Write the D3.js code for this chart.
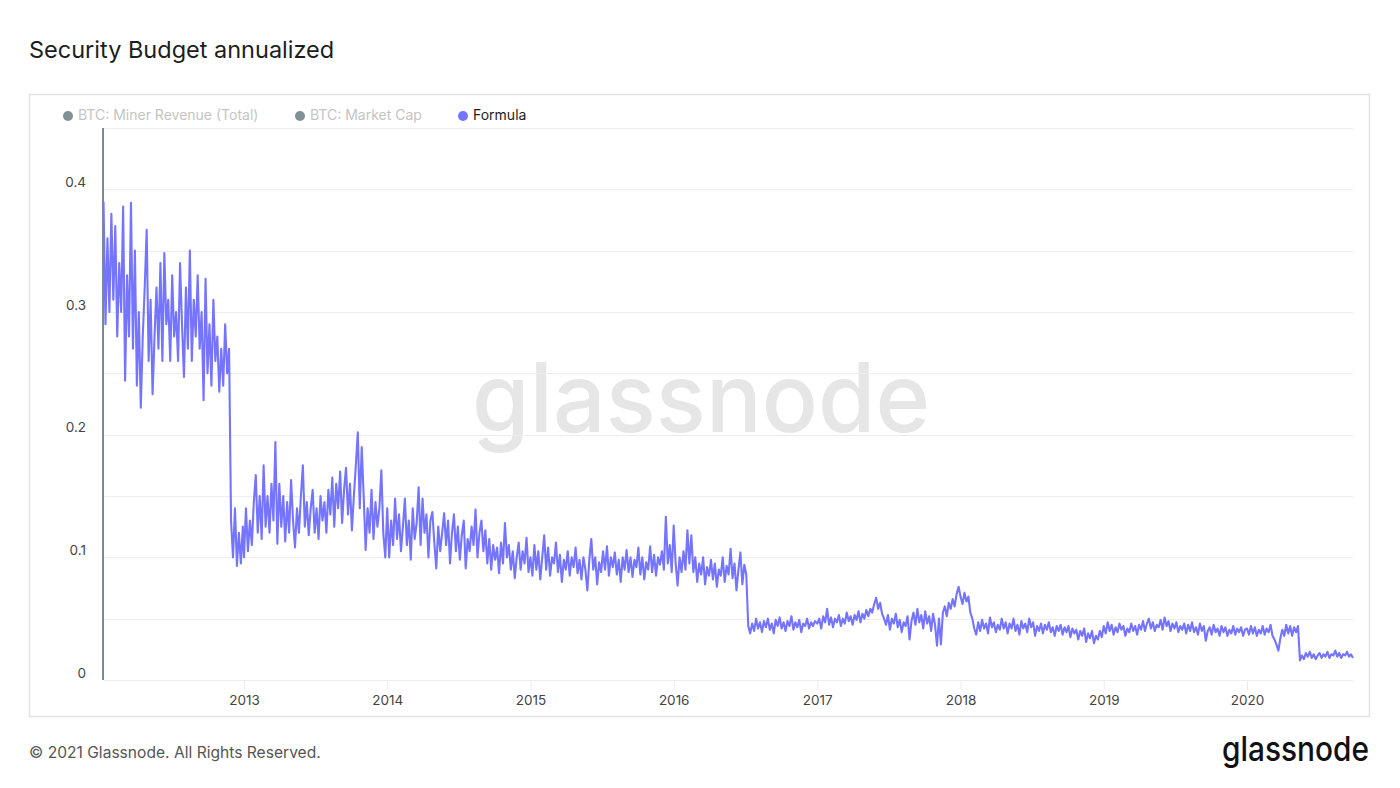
<!DOCTYPE html>
<html>
<head>
<meta charset="utf-8">
<script src="https://cdn.jsdelivr.net/npm/d3@7"></script>
<style>
  html, body { margin: 0; padding: 0; background: #fff; }
  svg { display: block; font-family: Inter, "Noto Sans", sans-serif; }
</style>
</head>
<body>
<svg id="chart" width="1400" height="788"></svg>
<script>
const stepDays = 5;
const v2012 = [0.39,0.29,0.36,0.30,0.38,0.31,0.37,0.28,0.34,0.30,0.386,0.244,0.33,0.28,0.389,0.27,0.35,0.24,0.30,0.222,
  0.28,0.32,0.367,0.26,0.31,0.233,0.28,0.32,0.27,0.34,0.26,0.348,0.29,0.31,0.26,0.33,0.28,0.30,0.26,0.34,
  0.29,0.247,0.32,0.27,0.35,0.26,0.31,0.28,0.33,0.27,0.30,0.228,0.327,0.25,0.29,0.24,0.31,0.26,0.28,0.235,
  0.27,0.24,0.29,0.25,0.27,0.13,0.10,0.14,0.093,0.12,0.095,0.125];
const v2013 = [0.10,0.14,0.105,0.13,0.11,0.145,0.167,0.12,0.15,0.115,0.175,0.125,0.15,0.12,0.16,0.13,0.194,0.111,0.16,0.125,
  0.15,0.113,0.145,0.12,0.163,0.13,0.108,0.14,0.12,0.15,0.175,0.125,0.145,0.118,0.14,0.155,0.12,0.14,0.115,0.15,
  0.13,0.145,0.12,0.155,0.135,0.165,0.125,0.16,0.14,0.17,0.128,0.155,0.173,0.135,0.16,0.122,0.15,0.175,0.202,0.14,
  0.19,0.15,0.106,0.14,0.12,0.155,0.115,0.145,0.125,0.14,0.171,0.12,0.10];
const v2014 = [0.14,0.10,0.13,0.11,0.148,0.115,0.135,0.105,0.125,0.148,0.11,0.13,0.098,0.14,0.115,0.128,0.157,0.11,0.148,0.12,
  0.135,0.10,0.13,0.137,0.112,0.091,0.125,0.105,0.12,0.136,0.11,0.13,0.095,0.12,0.135,0.105,0.125,0.098,0.118,0.13,
  0.091,0.115,0.105,0.125,0.11,0.139,0.10,0.12,0.13,0.105,0.122,0.095,0.115,0.09,0.11,0.098,0.108,0.087,0.112,0.095,
  0.128,0.10,0.11,0.09,0.105,0.083,0.10,0.112,0.09,0.105,0.095,0.116,0.088];
const v2015 = [0.10,0.085,0.11,0.09,0.105,0.082,0.10,0.118,0.09,0.108,0.085,0.10,0.095,0.112,0.088,0.102,0.08,0.098,0.09,0.105,
  0.085,0.10,0.092,0.108,0.087,0.098,0.082,0.10,0.09,0.073,0.098,0.115,0.09,0.10,0.078,0.096,0.088,0.105,0.09,0.109,
  0.085,0.10,0.092,0.104,0.086,0.098,0.08,0.10,0.09,0.106,0.088,0.10,0.084,0.098,0.092,0.108,0.086,0.10,0.082,0.096,
  0.09,0.109,0.088,0.102,0.085,0.10,0.094,0.105,0.09,0.133,0.095,0.11,0.088];
const v2016 = [0.126,0.095,0.077,0.10,0.088,0.105,0.09,0.122,0.095,0.118,0.088,0.10,0.08,0.095,0.086,0.10,0.078,0.092,0.085,0.098,
  0.082,0.095,0.076,0.09,0.085,0.10,0.08,0.093,0.086,0.107,0.083,0.095,0.073,0.09,0.104,0.078,0.094,0.086,0.044,0.038,
  0.046,0.04,0.05,0.042,0.047,0.039,0.048,0.043,0.05,0.041,0.046,0.038,0.049,0.044,0.051,0.042,0.047,0.04,0.048,0.044,
  0.052,0.041,0.047,0.043,0.049,0.039,0.046,0.044,0.05,0.042,0.047,0.044,0.048];
const v2017 = [0.046,0.05,0.042,0.052,0.047,0.058,0.045,0.051,0.043,0.05,0.047,0.053,0.044,0.05,0.046,0.055,0.048,0.052,0.045,0.053,
  0.049,0.056,0.047,0.054,0.05,0.057,0.052,0.058,0.055,0.062,0.067,0.058,0.063,0.054,0.05,0.045,0.053,0.041,0.05,0.046,
  0.054,0.043,0.049,0.039,0.047,0.044,0.052,0.033,0.048,0.055,0.045,0.058,0.047,0.053,0.042,0.056,0.046,0.052,0.04,0.054,
  0.045,0.028,0.05,0.029,0.055,0.06,0.052,0.063,0.058,0.066,0.06,0.07,0.076];
const v2018 = [0.068,0.062,0.071,0.064,0.068,0.055,0.05,0.042,0.037,0.047,0.04,0.049,0.042,0.046,0.038,0.051,0.043,0.047,0.039,0.045,
  0.041,0.05,0.042,0.047,0.038,0.046,0.042,0.05,0.04,0.045,0.037,0.048,0.042,0.046,0.039,0.05,0.043,0.047,0.036,0.044,
  0.04,0.046,0.038,0.045,0.041,0.047,0.039,0.043,0.036,0.044,0.04,0.045,0.037,0.043,0.039,0.044,0.035,0.042,0.038,0.041,
  0.033,0.04,0.036,0.042,0.031,0.038,0.034,0.04,0.03,0.036,0.033,0.04,0.035];
const v2019 = [0.044,0.038,0.047,0.04,0.045,0.037,0.043,0.039,0.046,0.041,0.044,0.036,0.042,0.039,0.046,0.04,0.044,0.037,0.045,0.041,
  0.048,0.04,0.046,0.05,0.042,0.047,0.04,0.045,0.043,0.049,0.041,0.051,0.044,0.048,0.04,0.046,0.042,0.047,0.039,0.044,
  0.041,0.046,0.038,0.045,0.04,0.047,0.039,0.043,0.037,0.046,0.04,0.044,0.032,0.04,0.043,0.037,0.045,0.039,0.042,0.036,
  0.044,0.039,0.043,0.036,0.041,0.038,0.044,0.037,0.042,0.039,0.043,0.036,0.041];
const v2020 = [0.042,0.037,0.044,0.038,0.043,0.036,0.041,0.038,0.044,0.037,0.042,0.039,0.045,0.036,0.033,0.029,0.024,0.034,0.041,0.036,
  0.045,0.038,0.044,0.036,0.043,0.039,0.044,0.016,0.02,0.017,0.022,0.019,0.023,0.018,0.021,0.017,0.02,0.022,0.018,0.021,
  0.019,0.023,0.018,0.021,0.02,0.024,0.019,0.022,0.018,0.021,0.02,0.023,0.019,0.021,0.018];
const seriesStarts = ["2012-01-09","2013-01-01","2014-01-01","2015-01-01","2016-01-01","2017-01-01","2018-01-01","2019-01-01","2020-01-01"];
const seriesValues = [v2012,v2013,v2014,v2015,v2016,v2017,v2018,v2019,v2020];

const yTicks = [0, 0.1, 0.2, 0.3, 0.4];
const yGrid = [0, 0.05, 0.1, 0.15, 0.2, 0.25, 0.3, 0.35, 0.4, 0.45];
const xTickYears = [2013, 2014, 2015, 2016, 2017, 2018, 2019, 2020];
const legendItems = [
  { label: "BTC: Miner Revenue (Total)", color: "#7f9097", active: false },
  { label: "BTC: Market Cap", color: "#7f9097", active: false },
  { label: "Formula", color: "#7474ff", active: true }
];

// ---- Build data ----
const parse = d3.utcParse("%Y-%m-%d");
const data = [];
seriesValues.forEach((vals, k) => {
  const start = parse(seriesStarts[k]);
  vals.forEach((v, i) => data.push({ date: d3.utcDay.offset(start, i * stepDays), value: v }));
});

// ---- Layout ----
const svg = d3.select("#chart");
const plot = { left: 104, right: 1353, top: 128, bottom: 680 };

const x = d3.scaleUtc()
  .domain([new Date(Date.UTC(2013,0,1)), new Date(Date.UTC(2020,0,1))])
  .range([244, 1247]);
const y = d3.scaleLinear().domain([0, 0.45]).range([plot.bottom, plot.top]);

// Title
svg.append("text").attr("x", 29).attr("y", 58)
  .attr("font-size", 23.5).attr("fill", "#1d1d1d").attr("font-weight", 400)
  .text("Security Budget annualized");

// Frame
svg.append("rect").attr("x", 29.5).attr("y", 94.5).attr("width", 1340).attr("height", 622)
  .attr("fill", "#fff").attr("stroke", "#e3e3e3").attr("stroke-width", 1.5);

// Watermark
svg.append("text").attr("x", 472).attr("y", 432)
  .attr("font-size", 96).attr("font-weight", 500).attr("fill", "#e6e6e6")
  .attr("textLength", 458).attr("lengthAdjust", "spacingAndGlyphs")
  .text("glassnode");

// Gridlines
svg.append("g").selectAll("line").data(yGrid).join("line")
  .attr("x1", plot.left).attr("x2", plot.right)
  .attr("y1", d => Math.round(y(d)) + 0.5).attr("y2", d => Math.round(y(d)) + 0.5)
  .attr("stroke", "#ededed").attr("stroke-width", 1);

// Y labels
svg.append("g").selectAll("text").data(yTicks).join("text")
  .attr("x", 86).attr("y", d => y(d) - 6)
  .attr("text-anchor", "end").attr("dominant-baseline", "middle")
  .attr("font-size", 13.5).attr("fill", "#444")
  .text(d => d === 0 ? "0" : d3.format(".1f")(d));

// X ticks and labels
const xAxis = d3.axisBottom(x)
  .tickValues(xTickYears.map(yr => new Date(Date.UTC(yr,0,1))))
  .tickFormat(d3.utcFormat("%Y"))
  .tickSize(10).tickPadding(5);
const gx = svg.append("g").attr("transform", `translate(0,${plot.bottom})`).call(xAxis);
gx.select(".domain").remove();
gx.selectAll(".tick line").attr("stroke", "#ececec");
gx.selectAll(".tick text").attr("font-size", 13.5).attr("fill", "#444")
  .attr("font-family", "Inter, 'Noto Sans', sans-serif");

// Y axis line
svg.append("line").attr("x1", 103).attr("x2", 103).attr("y1", plot.top).attr("y2", plot.bottom)
  .attr("stroke", "#7a8a92").attr("stroke-width", 2);

// Series line
const line = d3.line().x(d => x(d.date)).y(d => y(d.value));
svg.append("path").datum(data)
  .attr("d", line).attr("fill", "none")
  .attr("stroke", "#7474ff").attr("stroke-width", 2.1).attr("stroke-linejoin", "round");

// Legend
const legendX = [68, 300, 463];
const lg = svg.append("g").selectAll("g").data(legendItems).join("g")
  .attr("transform", (d, i) => `translate(${legendX[i]},116)`);
lg.append("circle").attr("r", 5).attr("fill", d => d.color);
lg.append("text").attr("x", 10).attr("dominant-baseline", "middle")
  .attr("font-size", 14).attr("fill", d => d.active ? "#1d1d1d" : "#c4c4c4")
  .text(d => d.label);

// Footer
svg.append("text").attr("x", 29).attr("y", 758)
  .attr("font-size", 15.6).attr("fill", "#555")
  .text("© 2021 Glassnode. All Rights Reserved.");
svg.append("text").attr("x", 1222).attr("y", 761)
  .attr("font-size", 34).attr("font-weight", 500).attr("fill", "#111")
  .attr("textLength", 147).attr("lengthAdjust", "spacingAndGlyphs")
  .text("glassnode");
</script>
</body>
</html>
